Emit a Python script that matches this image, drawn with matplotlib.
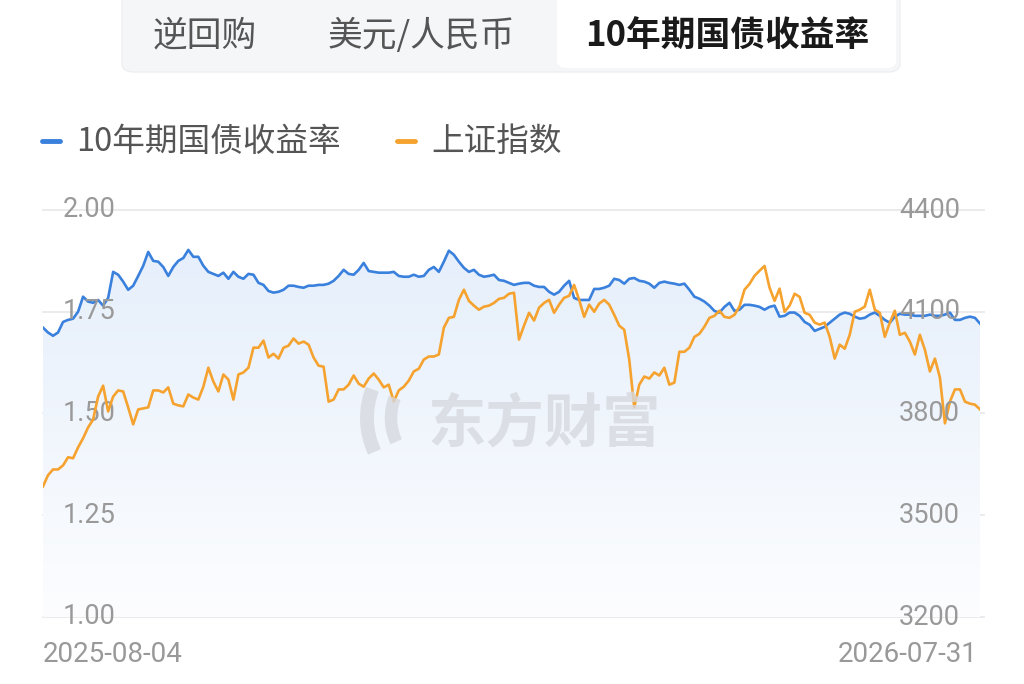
import numpy as np
import pandas as pd
import matplotlib
matplotlib.use("Agg")
import matplotlib.pyplot as plt
from matplotlib.patches import FancyBboxPatch, Arc
from matplotlib.colors import LinearSegmentedColormap

# ---- data ----
tabs = ["逆回购", "美元/人民币", "10年期国债收益率"]
series_names = ["10年期国债收益率", "上证指数"]
start_label = "2025-08-04"
end_label = "2026-07-31"

bond_yield = [
    1.711, 1.699, 1.691, 1.699, 1.725, 1.730, 1.733, 1.750, 1.787, 1.775,
    1.772, 1.779, 1.765, 1.784, 1.848, 1.841, 1.824, 1.804, 1.814, 1.838,
    1.863, 1.897, 1.875, 1.873, 1.860, 1.838, 1.860, 1.875, 1.882, 1.902,
    1.885, 1.885, 1.863, 1.848, 1.843, 1.838, 1.846, 1.831, 1.848, 1.836,
    1.831, 1.843, 1.841, 1.821, 1.816, 1.801, 1.797, 1.799, 1.804, 1.814,
    1.814, 1.811, 1.809, 1.814, 1.814, 1.816, 1.816, 1.819, 1.826, 1.838,
    1.853, 1.843, 1.841, 1.853, 1.870, 1.850, 1.848, 1.846, 1.846, 1.846,
    1.848, 1.838, 1.836, 1.836, 1.841, 1.836, 1.838, 1.853, 1.860, 1.848,
    1.873, 1.900, 1.890, 1.873, 1.858, 1.848, 1.853, 1.841, 1.836, 1.838,
    1.841, 1.828, 1.826, 1.821, 1.816, 1.819, 1.821, 1.821, 1.814, 1.811,
    1.811, 1.799, 1.792, 1.799, 1.814, 1.826, 1.784, 1.779, 1.779, 1.779,
    1.806, 1.806, 1.809, 1.814, 1.831, 1.828, 1.819, 1.831, 1.833, 1.826,
    1.824, 1.819, 1.809, 1.821, 1.824, 1.821, 1.819, 1.816, 1.819, 1.804,
    1.787, 1.782, 1.775, 1.765, 1.752, 1.748, 1.762, 1.772, 1.752, 1.755,
    1.767, 1.767, 1.765, 1.762, 1.755, 1.762, 1.765, 1.738, 1.740, 1.748,
    1.748, 1.740, 1.725, 1.718, 1.703, 1.708, 1.713, 1.723, 1.733, 1.743,
    1.748, 1.745, 1.738, 1.733, 1.735, 1.743, 1.748, 1.740, 1.730, 1.723,
    1.738, 1.745, 1.743, 1.743, 1.740, 1.740, 1.740, 1.743, 1.740, 1.740,
    1.743, 1.748, 1.730, 1.730, 1.735, 1.738, 1.735, 1.721,
]

sh_index = [
    3585, 3618, 3635, 3635, 3647, 3671, 3668, 3700, 3727, 3759,
    3782, 3850, 3882, 3806, 3850, 3868, 3865, 3818, 3768, 3812,
    3815, 3818, 3868, 3868, 3862, 3877, 3829, 3824, 3821, 3856,
    3847, 3841, 3879, 3935, 3894, 3865, 3915, 3900, 3841, 3915,
    3921, 3935, 3994, 3994, 4015, 3965, 3976, 3962, 3994, 4000,
    4021, 4006, 4012, 4003, 3965, 3941, 3938, 3835, 3841, 3871,
    3871, 3885, 3912, 3888, 3879, 3903, 3918, 3900, 3877, 3885,
    3835, 3868, 3879, 3897, 3924, 3932, 3959, 3968, 3968, 3974,
    4053, 4082, 4085, 4135, 4165, 4132, 4118, 4106, 4115, 4118,
    4126, 4138, 4141, 4153, 4156, 4018, 4059, 4097, 4074, 4112,
    4126, 4135, 4097, 4121, 4141, 4147, 4179, 4135, 4085, 4121,
    4100, 4124, 4135, 4121, 4091, 4059, 4047, 3959, 3818, 3885,
    3909, 3903, 3921, 3912, 3935, 3885, 3891, 3982, 3982, 3994,
    4026, 4035, 4056, 4082, 4088, 4103, 4085, 4082, 4091, 4115,
    4165, 4182, 4206, 4221, 4235, 4171, 4132, 4168, 4100, 4118,
    4153, 4144, 4097, 4091, 4068, 4062, 4068, 4026, 3962, 4003,
    3991, 4032, 4100, 4106, 4115, 4165, 4106, 4097, 4026, 4068,
    4103, 4032, 4038, 4012, 3974, 4032, 3988, 3924, 3962, 3906,
    3771, 3835, 3871, 3871, 3835, 3829, 3826, 3812,
]

left_ticks = [1.00, 1.25, 1.50, 1.75, 2.00]
right_ticks = [3200, 3500, 3800, 4100, 4400]

BLUE = "#3a80dd"
ORANGE = "#f5a22f"
GREY = "#999999"
CJK = ["Noto Sans CJK SC", "DejaVu Sans"]
NUM = ["Roboto", "DejaVu Sans"]

W, H = 1024, 684


def px(x, y):
    return x / W, 1 - y / H


fig = plt.figure(figsize=(W / 100, H / 100), dpi=100)
fig.patch.set_facecolor("white")

# ---- tab bar ----
l, b = px(122, 72)
fig.patches.append(FancyBboxPatch((l, b), (900 - 122) / W, 90 / H,
                                  boxstyle="round,pad=0,rounding_size=0.012",
                                  transform=fig.transFigure, fc="#f5f6f8",
                                  ec="#eeeff2", lw=1.0, zorder=0))
l, b = px(557, 68)
fig.patches.append(FancyBboxPatch((l, b), (896 - 557) / W, 80 / H,
                                  boxstyle="round,pad=0,rounding_size=0.01",
                                  transform=fig.transFigure, fc="white",
                                  ec="none", zorder=1))
for name, cx in zip(tabs, [205, 421, 727]):
    sel = name == tabs[-1]
    fig.text(*px(cx, 36), name, ha="center", va="center", fontsize=25,
             family=CJK, color="#1a1a1a" if sel else "#555555",
             weight="bold" if sel else "normal", zorder=2)

# ---- legend ----
for name, color, mx in zip(series_names, [BLUE, ORANGE], [42, 397]):
    fig.add_artist(plt.Line2D([mx / W, (mx + 18) / W], [1 - 141 / H] * 2,
                              transform=fig.transFigure, color=color, lw=3.5,
                              solid_capstyle="round"))
    fig.text(*px(mx + 34, 142), name, ha="left", va="center", fontsize=23.5,
             family=CJK, color="#555555")

# ---- chart ----
x = np.arange(len(bond_yield))
xo = np.arange(len(sh_index))
ax = fig.add_axes([43 / W, 1 - 617 / H, (980 - 43) / W, (617 - 210) / H])
ax.set_xlim(0, len(bond_yield) - 1)
ax.set_ylim(1.0, 2.0)
for s in ax.spines.values():
    s.set_visible(False)
ax.set_xticks([])
ax.set_yticks([])
ax.patch.set_alpha(0)

for t in left_ticks:
    ax.axhline(t, color="#e9e9ec", lw=1.3, zorder=0, xmin=0, xmax=1.004,
               clip_on=False)

# gradient fill under yield line
cmap = LinearSegmentedColormap.from_list("g", [(0.99, 0.992, 0.998), (0.9, 0.937, 0.985)])
grad = np.linspace(0, 1, 256).reshape(-1, 1)
top = max(bond_yield)
im = ax.imshow(grad, extent=[0, len(bond_yield) - 1, 1.0, top], origin="lower",
               aspect="auto", cmap=cmap, zorder=1)
poly = ax.fill_between(x, bond_yield, 1.0, color="none", lw=0)
im.set_clip_path(poly.get_paths()[0], transform=ax.transData)

# watermark
fig.text(*px(544, 426), "东方财富", ha="center", va="center",
         fontsize=42, weight="bold", family=CJK, color="#d6d9df", alpha=0.8, zorder=2)
for cxp, cyp, r, lw in [(447, 418, 80, 10), (447, 418, 56, 9)]:
    fx, fy = px(cxp, cyp)
    fig.add_artist(Arc((fx, fy), 2 * r / W, 2 * r / H, angle=0, theta1=150,
                       theta2=215, transform=fig.transFigure, color="#d6d9df",
                       lw=lw, alpha=0.8, zorder=2))

ax.plot(x, bond_yield, color=BLUE, lw=1.9, zorder=4, solid_joinstyle="round")

ax2 = ax.twinx()
ax2.set_ylim(3200, 4400)
for s in ax2.spines.values():
    s.set_visible(False)
ax2.set_yticks([])
ax2.plot(xo, sh_index, color=ORANGE, lw=1.9, zorder=3, solid_joinstyle="round")

# tick labels inside the plot
for t in left_ticks:
    ax.text(20 / (980 - 43), t, f"{t:.2f}", transform=ax.get_yaxis_transform(),
            ha="left", va="center", fontsize=19.5, family=NUM, color=GREY, zorder=5)
for t in right_ticks:
    ax2.text(1 - 20 / (980 - 43), t, f"{t}", transform=ax2.get_yaxis_transform(),
             ha="right", va="center", fontsize=19.5, family=NUM, color=GREY, zorder=5)

fig.text(*px(43, 655), start_label, ha="left", va="center", fontsize=20,
         family=NUM, color=GREY)
fig.text(*px(978, 655), end_label, ha="right", va="center", fontsize=20,
         family=NUM, color=GREY)

fig.savefig("out.png", dpi=100)
